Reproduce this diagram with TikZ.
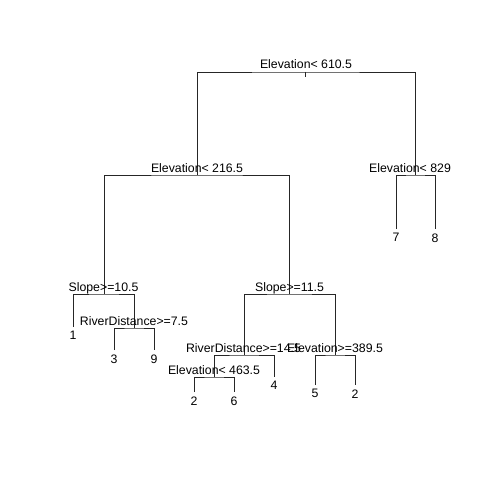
\documentclass[tikz,border=0pt]{standalone}
\usepackage{fontspec}
\setmainfont{Liberation Sans}
\usetikzlibrary{positioning}

\begin{document}
\begin{tikzpicture}[x=0.03cm, y=-0.03cm,
    split/.style={anchor=base, inner sep=0pt, font=\fontsize{10.5}{12}\selectfont},
    leaf/.style={anchor=north, inner sep=0pt, font=\fontsize{10.5}{12}\selectfont},
    branch/.style={line width=0.6pt, black!85}]
    \useasboundingbox (0,0) rectangle (480,480);
    %%Split points
    \coordinate (root) at (305,72);
    \coordinate (elevA) at (197,175);
    \coordinate (elevB) at (415,175);
    \coordinate (slopeA) at (104,294);
    \coordinate (slopeB) at (289,294);
    \coordinate (riverA) at (134,328);
    \coordinate (riverB) at (244,355);
    \coordinate (elevC) at (335,355);
    \coordinate (elevD) at (214,377);
    %%Leaf ends
    \coordinate (leafseven) at (396,229);
    \coordinate (leafeight) at (435,229);
    \coordinate (leafone) at (73,327);
    \coordinate (leafthree) at (114,350);
    \coordinate (leafnine) at (154,350);
    \coordinate (leaffour) at (274,377);
    \coordinate (leaftwoA) at (194,392);
    \coordinate (leafsix) at (234,392);
    \coordinate (leaffive) at (315,385);
    \coordinate (leaftwoB) at (355,385);
    %%Branches
    \coordinate (rootstem) at (305,77);
    \draw[branch] (root) -- (rootstem);
    \draw[branch] (elevA) |- (root) -| (elevB);
    \draw[branch] (leafseven) |- (elevB) -| (leafeight);
    \draw[branch] (slopeA) |- (elevA) -| (slopeB);
    \draw[branch] (leafone) |- (slopeA) -| (riverA);
    \draw[branch] (leafthree) |- (riverA) -| (leafnine);
    \draw[branch] (riverB) |- (slopeB) -| (elevC);
    \draw[branch] (elevD) |- (riverB) -| (leaffour);
    \draw[branch] (leaftwoA) |- (elevD) -| (leafsix);
    \draw[branch] (leaffive) |- (elevC) -| (leaftwoB);
    %%Split labels
    \node[split] (lroot) at (306,69) {Elevation< 610.5};
    \node[split] (lelevA) at (197,172) {Elevation< 216.5};
    \node[split] (lelevB) at (410,172) {Elevation< 829};
    \node[split] (lslopeA) at (103.5,291) {Slope>=10.5};
    \node[split] (lslopeB) at (289.5,291) {Slope>=11.5};
    \node[split] (lriverA) at (134,325) {RiverDistance>=7.5};
    \node[split] (lriverB) at (243.5,352) {RiverDistance>=14.5};
    \node[split] (lelevC) at (335,352) {Elevation>=389.5};
    \node[split] (lelevD) at (214,374) {Elevation< 463.5};
    %%Leaf labels
    \node[leaf, below=3.6pt of leafseven] (nseven) {7};
    \node[leaf, below=3.6pt of leafeight] (neight) {8};
    \node[leaf, below=3.6pt of leafone] (none) {1};
    \node[leaf, below=3.6pt of leafthree] (nthree) {3};
    \node[leaf, below=3.6pt of leafnine] (nnine) {9};
    \node[leaf, below=3.6pt of leaffour] (nfour) {4};
    \node[leaf, below=3.6pt of leaftwoA] (ntwoA) {2};
    \node[leaf, below=3.6pt of leafsix] (nsix) {6};
    \node[leaf, below=3.6pt of leaffive] (nfive) {5};
    \node[leaf, below=3.6pt of leaftwoB] (ntwoB) {2};
\end{tikzpicture}
\end{document}
